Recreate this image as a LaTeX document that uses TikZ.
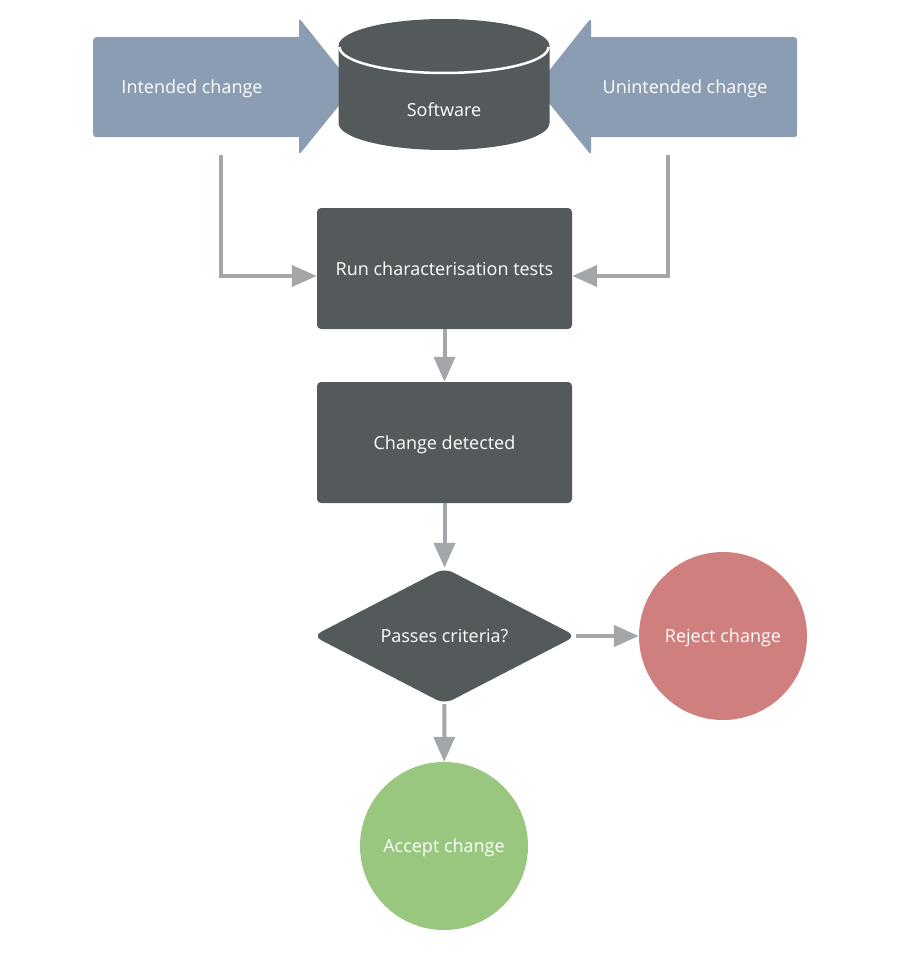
\documentclass[tikz,border=0pt]{standalone}
\usepackage{fontspec}
\setmainfont{Open Sans}
\usetikzlibrary{shapes.geometric,arrows.meta,calc}
\definecolor{darkbox}{HTML}{54595C}
\definecolor{bluegray}{HTML}{8A9DB2}
\definecolor{conngray}{HTML}{A3A7AA}
\definecolor{rejectred}{HTML}{CF7F7E}
\definecolor{acceptgreen}{HTML}{99C77F}
\tikzset{
  lbl/.style={text=white, font=\fontsize{18}{21}\selectfont, text height=13pt, text depth=0pt},
  bigarrow/.style={fill=bluegray, rounded corners=3pt},
  procbox/.style={lbl, fill=darkbox, rounded corners=4pt, minimum width=255pt, minimum height=121pt, inner sep=0pt},
  decision/.style={lbl, diamond, fill=darkbox, rounded corners=9pt, aspect=1.93, minimum width=263pt, minimum height=136pt, inner sep=0pt},
  endpoint/.style={lbl, circle, minimum size=168pt, inner sep=0pt},
  conn/.style={draw=conngray, line width=4pt, -{Triangle[length=25pt,width=21pt]}}
}
\begin{document}
\begin{tikzpicture}[x=1pt,y=-1pt]
\useasboundingbox (0,0) rectangle (900,960);

% big input arrows
\node[bigarrow, minimum width=212pt, minimum height=100pt, inner sep=0pt, anchor=north west] (intended) at (93,37) {};
\fill[bigarrow] (299,18) -- (354,87) -- (299,155) -- cycle;
\node[bigarrow, minimum width=212pt, minimum height=100pt, inner sep=0pt, anchor=north west] (unintended) at (585,37) {};
\fill[bigarrow] (591,18) -- (536,87) -- (591,155) -- cycle;
\node[lbl] (intendedtext) at (192,87) {Intended change};
\node[lbl] (unintendedtext) at (685,87) {Unintended change};

% software cylinder
\fill[darkbox] (338.5,46) -- (338.5,123) arc[start angle=180,end angle=360,x radius=105.5pt,y radius=27pt]
  -- (549.5,46) arc[start angle=0,end angle=180,x radius=105.5pt,y radius=27pt] -- cycle;
\draw[white, line width=2.5pt] (339.5,47) arc[start angle=180,end angle=360,x radius=104.5pt,y radius=26pt];
\node[lbl] (software) at (444,110) {Software};

% process
\node[procbox] (run) at (444.5,268.5) {Run characterisation tests};
\node[procbox] (detected) at (444.5,442.5) {Change detected};
\node[decision] (criteria) at (444.5,636) {Passes criteria?};
\node[endpoint, fill=rejectred] (reject) at (723,636) {Reject change};
\node[endpoint, fill=acceptgreen] (accept) at (444,846) {Accept change};

% connectors
\coordinate (lstart) at (221,155);
\coordinate (rstart) at (668,155);
\draw[conn] (lstart) |- ($(run.west)+(0,7.5)$);
\draw[conn] (rstart) |- ($(run.east)+(0,7.5)$);
\draw[conn] (run) -- (detected);
\draw[conn] (detected) -- (criteria);
\draw[conn] (criteria.east) -- (reject);
\draw[conn] (criteria) -- (accept);
\end{tikzpicture}
\end{document}
